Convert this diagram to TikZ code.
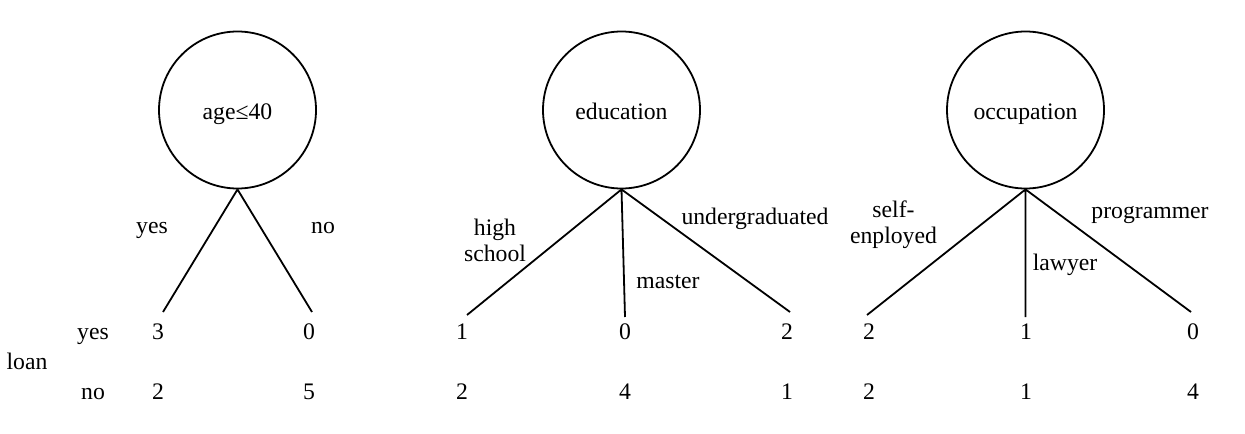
\documentclass[tikz,border=0pt]{standalone}
\usepackage{fontspec}
\setmainfont{Liberation Serif}
\usetikzlibrary{positioning}
\begin{document}
\begin{tikzpicture}[x=0.5pt,y=-0.5pt,line width=0.9pt,
    every node/.style={font=\fontsize{11.85}{13}\selectfont,text height=0.68em,text depth=0pt},
    attr/.style={draw,circle,minimum size=78.5pt,inner sep=0pt,text height=0.95em},
    lab/.style={align=center,inner sep=1pt,text height=,text depth=}]
\useasboundingbox (0,0) rectangle (1245,433);
\node[attr] (age) at (237.5,110) {age≤40};
\node[attr] (edu) at (621.5,110) {education};
\node[attr] (occ) at (1025.5,110) {occupation};
\coordinate (a1) at (163,312);
\coordinate (a2) at (312,312);
\coordinate (e1) at (467,315);
\coordinate (e2) at (625,317);
\coordinate (e3) at (790,312);
\coordinate (o1) at (867,315);
\coordinate (o2) at (1025.5,317);
\coordinate (o3) at (1191,312);
\draw (age.south) -- (a1) (age.south) -- (a2);
\draw (edu.south) -- (e1) (edu.south) -- (e2) (edu.south) -- (e3);
\draw (occ.south) -- (o1) (occ.south) -- (o2) (occ.south) -- (o3);
\node (yes) at (152,227) {yes};
\node (no) at (323,227) {no};
\node[lab] (high) at (495,240.5) {high\\school};
\node (master) at (668,282) {master};
\node (under) at (755,218) {undergraduated};
\node[lab] (self) at (893.5,224.5) {self-\\enployed};
\node (lawyer) at (1065,264) {lawyer};
\node (prog) at (1150,212) {programmer};
\node (ryes) at (93,333) {yes};
\node (rno) at (93,393) {no};
\node (loan) at (27,363) {loan};
\foreach \x/\t/\b in {158/3/2,309/0/5,462/1/2,625/0/4,787/2/1,869/2/2,1026/1/1,1193/0/4}{
  \node (t\x) at (\x,333) {\t};
  \node (b\x) at (\x,393) {\b};
}
\end{tikzpicture}
\end{document}
